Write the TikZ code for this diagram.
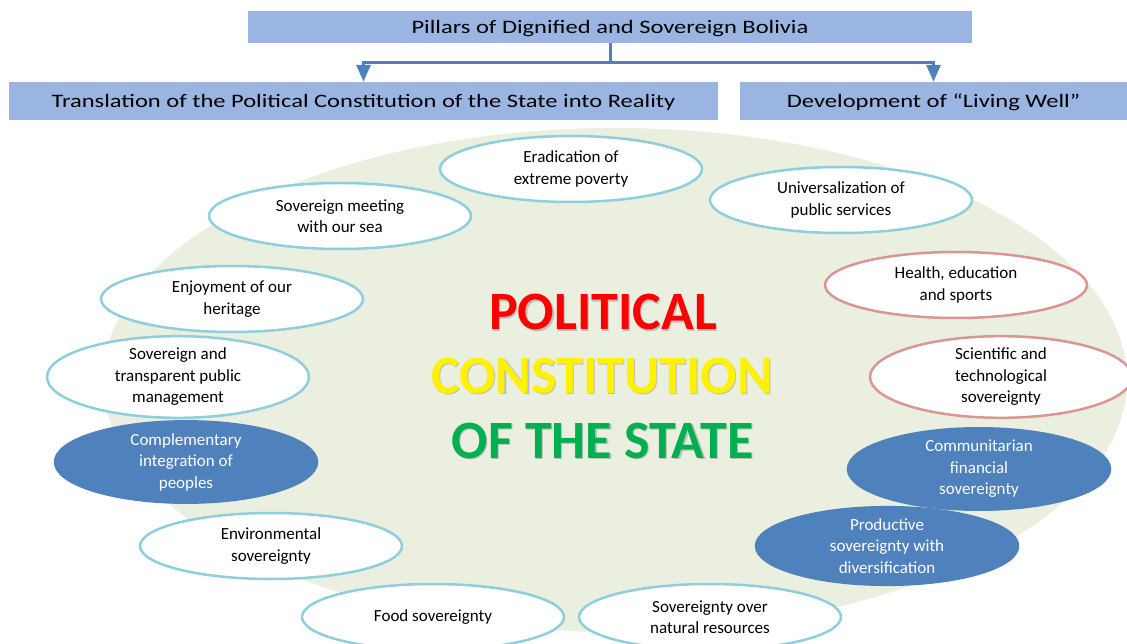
\documentclass[tikz,border=0pt]{standalone}
\usepackage{fontspec}
\setmainfont{Carlito}
\newfontfamily\widefont[FakeStretch=1.29,Ligatures=TeX]{Carlito}
\usetikzlibrary{arrows.meta,shapes.geometric}
\definecolor{boxblue}{HTML}{9AB5E1}
\definecolor{linkblue}{HTML}{4F81BD}
\definecolor{ringblue}{HTML}{8FCFDD}
\definecolor{ringred}{HTML}{D99694}
\definecolor{backgreen}{HTML}{EBEFDF}
\definecolor{stategreen}{HTML}{00B050}
\tikzset{
	pillar/.style={fill=boxblue, inner sep=0pt, text depth=0pt, font=\widefont\fontsize{19}{23}\selectfont},
	link/.style={draw=linkblue, line width=3pt, -{Triangle[width=14pt,length=17pt]}},
	goal/.style={ellipse, draw=ringblue, line width=2.5pt, fill=white, minimum width=262pt, minimum height=66pt, inner sep=0pt, align=center, font=\fontsize{17}{21.5}\selectfont},
	goalred/.style={goal, draw=ringred},
	goalfull/.style={goal, draw=linkblue, fill=linkblue, text=white},
	title/.style={anchor=base, font=\fontsize{54}{60}\selectfont\bfseries}
}
\begin{document}
\begin{tikzpicture}[x=1pt,y=-1pt]
				\useasboundingbox (0,0) rectangle (1127,644);
				
				% background
				\fill[backgreen] (615,380) ellipse (512 and 252);
				
				% top boxes
				\node[pillar, minimum width=724pt, minimum height=32pt] (pillars) at (610,27) {Pillars of Dignified and Sovereign Bolivia};
				\node[pillar, minimum width=709pt, minimum height=38pt] (translation) at (363.5,101) {Translation of the Political Constitution of the State into Reality};
				\node[pillar, minimum width=387pt, minimum height=38pt] (living) at (933.5,101) {Development of ``Living Well''};
				
				\coordinate (split) at ([yshift=-19pt]pillars.south);
				\draw[draw=linkblue, line width=3pt] (pillars.south) -- (split);
				\draw[link] (split) -| (translation.north);
				\draw[link] (split) -| (living.north);
				
				% centre text
				\node[title, text=black!25] at (604.2,331.2) {POLITICAL};
				\node[title, text=red] (political) at (603,330) {POLITICAL};
				\node[title, text=black!25] at (603.2,394.2) {CONSTITUTION};
				\node[title, text=yellow] (constitution) at (602,393) {CONSTITUTION};
				\node[title, text=black!25] at (603.7,459.2) {OF THE STATE};
				\node[title, text=stategreen] (state) at (602.5,458) {OF THE STATE};
				
				% ring of goals
				\node[goal] (poverty) at (571,169) {Eradication of\\extreme poverty};
				\node[goal] (services) at (841,200) {Universalization of\\public services};
				\node[goal] (sea) at (340,216) {Sovereign meeting\\with our sea};
				\node[goalred] (health) at (956,285) {Health, education\\and sports};
				\node[goal] (heritage) at (232,299) {Enjoyment of our\\heritage};
				\node[goalred] (science) at (1001,377) {Scientific and\\technological\\sovereignty};
				\node[goal] (management) at (178,377) {Sovereign and\\transparent public\\management};
				\node[goalfull] (peoples) at (186,462) {Complementary\\integration of\\peoples};
				\node[goalfull] (financial) at (979,469) {Communitarian\\financial\\sovereignty};
				\node[goal] (environment) at (271,546) {Environmental\\sovereignty};
				\node[goalfull] (productive) at (887,546) {Productive\\sovereignty with\\diversification};
				\node[goal] (food) at (433,617) {Food sovereignty};
				\node[goal] (resources) at (710,617) {Sovereignty over\\natural resources};
			\end{tikzpicture}
\end{document}
